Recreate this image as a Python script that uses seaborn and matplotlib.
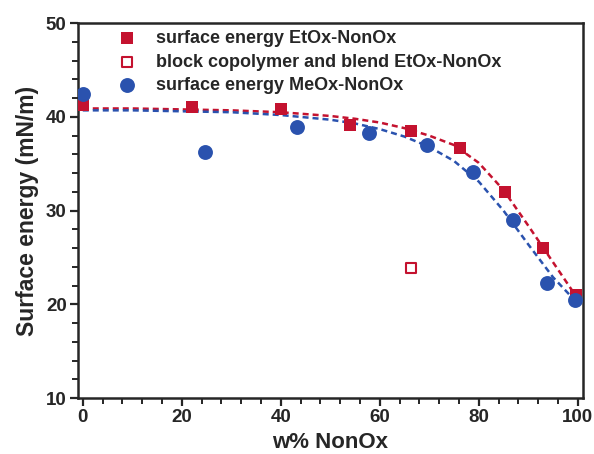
import pandas as pd
import matplotlib
matplotlib.use('Agg')
import matplotlib.pyplot as plt
from matplotlib.ticker import MultipleLocator
import seaborn as sns

etox_x = [0, 22, 40, 54, 66.3, 76.3, 85.3, 93, 99.6]
etox_y = [41.3, 41.1, 40.8, 39.1, 38.5, 36.7, 32.0, 26.0, 21.0]

blend_x = [66.3]
blend_y = [23.9]

meox_x = [0, 24.6, 43.3, 57.8, 69.6, 78.8, 86.9, 93.7, 99.5]
meox_y = [42.4, 36.3, 38.9, 38.3, 37.0, 34.1, 29.0, 22.3, 20.5]

# fit curves
fit_x = [0, 10, 20, 30, 40, 50, 55, 60, 65, 70, 75, 80, 85, 90, 95, 100]
fit_etox = [40.9, 40.9, 40.8, 40.7, 40.5, 40.1, 39.8, 39.4, 38.8, 38.0, 37.0, 35.1, 32.2, 28.4, 24.5, 20.6]
fit_meox = [40.7, 40.7, 40.6, 40.5, 40.2, 39.7, 39.3, 38.7, 37.9, 36.8, 35.3, 33.1, 30.0, 26.4, 22.9, 20.1]

RED = '#C4122F'
BLUE = '#2A52AE'

sns.set_style('ticks')
plt.rcParams['font.family'] = ['Liberation Sans', 'DejaVu Sans']
plt.rcParams['font.weight'] = 'bold'

fig = plt.figure(figsize=(5.94, 4.54), dpi=100)
ax = fig.add_axes([0.131, 0.123, 0.850, 0.826])

fits = pd.DataFrame({'x': fit_x, 'etox': fit_etox, 'meox': fit_meox})
sns.lineplot(data=fits, x='x', y='etox', color=RED, linestyle=(0, (2.4, 1.6)), linewidth=1.8, ax=ax, zorder=2)
sns.lineplot(data=fits, x='x', y='meox', color=BLUE, linestyle=(0, (2.4, 1.6)), linewidth=1.8, ax=ax, zorder=2)

sns.scatterplot(x=etox_x, y=etox_y, marker='s', s=85, color=RED, edgecolor=RED, linewidth=0,
                label='surface energy EtOx-NonOx', ax=ax, zorder=3)
sns.scatterplot(x=blend_x, y=blend_y, marker='s', s=55, facecolors='white', edgecolor=RED, linewidth=1.5,
                label='block copolymer and blend EtOx-NonOx', ax=ax, zorder=3)
sns.scatterplot(x=meox_x, y=meox_y, marker='o', s=115, color=BLUE, edgecolor=BLUE, linewidth=0,
                label='surface energy MeOx-NonOx', ax=ax, zorder=3)

ax.set_xlim(-1, 101)
ax.set_ylim(10, 50)
ax.xaxis.set_major_locator(MultipleLocator(20))
ax.xaxis.set_minor_locator(MultipleLocator(4))
ax.yaxis.set_major_locator(MultipleLocator(10))
ax.yaxis.set_minor_locator(MultipleLocator(2))
ax.tick_params(which='major', length=6, width=1.6, labelsize=13.5, direction='out', pad=2)
ax.tick_params(which='minor', length=4, width=1.4, direction='out')
for sp in ax.spines.values():
    sp.set_linewidth(1.8)
    sp.set_visible(True)

ax.set_xlabel('w% NonOx', fontsize=16, fontweight='bold', labelpad=4)
ax.set_ylabel('Surface energy (mN/m)', fontsize=16.5, fontweight='bold', labelpad=5)

ax.legend(loc='upper left', bbox_to_anchor=(0.04, 1.01), frameon=False, fontsize=13,
          handletextpad=0.6, labelspacing=0.35, borderaxespad=0.2)

plt.savefig('out.png', dpi=100)
